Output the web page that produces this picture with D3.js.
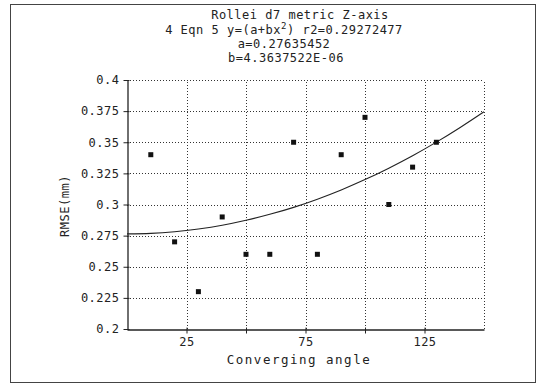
<!DOCTYPE html>
<html><head><meta charset="utf-8">
<script src="https://cdn.jsdelivr.net/npm/d3@7"></script>
<style>
body{margin:0;background:#fff;}
text{font-family:"DejaVu Sans Mono","Liberation Mono",monospace;fill:#222;}
</style></head>
<body><svg id="c" width="540" height="384"></svg>
<script>
const titleLines = ["Rollei d7 metric Z-axis", "4 Eqn 5 y=(a+bx", ") r2=0.29272477", "a=0.27635452", "b=4.3637522E-06"];
const angles = [10,20,30,40,50,60,70,80,90,100,110,120,130];
const rmse = [0.34,0.27,0.23,0.29,0.26,0.26,0.35,0.26,0.34,0.37,0.30,0.33,0.35];
const fitX = [0,10,20,30,40,50,60,70,80,90,100,110,120,130,140,150];
const fitY = [0.2764,0.2768,0.2781,0.2803,0.2833,0.2873,0.2921,0.2977,0.3043,0.3117,0.3200,0.3292,0.3392,0.3501,0.3619,0.3745];
const yTicks = [0.2,0.225,0.25,0.275,0.3,0.325,0.35,0.375,0.4];
const yTickLabels = ["0.2","0.225","0.25","0.275","0.3","0.325","0.35","0.375","0.4"];
const xTicks = [25,50,75,100,125];
const xTickLabels = ["25","","75","","125"];
const xTitle = "Converging angle";
const yTitle = "RMSE(mm)";

const svg = d3.select("#c");
const x = d3.scaleLinear().domain([0,150]).range([127,484]);
const y = d3.scaleLinear().domain([0.2,0.4]).range([329,80]);

// outer frame
svg.append("rect").attr("x",10.5).attr("y",4.5).attr("width",525).attr("height",378)
  .attr("fill","none").attr("stroke","#444").attr("stroke-width",1);

// title
const tg = svg.append("g").attr("font-size",12).attr("letter-spacing",0.5);
tg.append("text").attr("x",300).attr("y",19).attr("text-anchor","middle").text(titleLines[0]);
const t2 = tg.append("text").attr("x",284).attr("y",34).attr("text-anchor","middle");
t2.append("tspan").text(titleLines[1]);
t2.append("tspan").attr("dy",-5).attr("font-size",9).text("2");
t2.append("tspan").attr("dy",5).text(titleLines[2]);
tg.append("text").attr("x",284).attr("y",48).attr("text-anchor","middle").text(titleLines[3]);
tg.append("text").attr("x",286).attr("y",62).attr("text-anchor","middle").text(titleLines[4]);

// grid
const grid = svg.append("g").attr("stroke","#333").attr("stroke-width",1).attr("stroke-dasharray","1,2");
grid.selectAll(".h").data(yTicks.slice(1)).join("line")
  .attr("x1",x(0)).attr("x2",x(150)).attr("y1",d=>Math.round(y(d))+0.5).attr("y2",d=>Math.round(y(d))+0.5);
grid.selectAll(".v").data(xTicks.concat([150])).join("line")
  .attr("y1",y(0.2)).attr("y2",y(0.4)).attr("x1",d=>Math.round(x(d))+0.5).attr("x2",d=>Math.round(x(d))+0.5);

// axes
const yAxis = d3.axisLeft(y).tickValues(yTicks).tickFormat((d,i)=>yTickLabels[i]).tickSizeInner(4).tickSizeOuter(0).tickPadding(4);
const yg = svg.append("g").attr("transform",`translate(${x(0)+0.5},0)`).call(yAxis);
const xAxis = d3.axisBottom(x).tickValues(xTicks).tickFormat((d,i)=>xTickLabels[i]).tickSizeInner(4).tickSizeOuter(0).tickPadding(4);
const xg = svg.append("g").attr("transform",`translate(0,${y(0.2)+0.5})`).call(xAxis);
[yg,xg].forEach(g=>{
  g.select(".domain").attr("stroke","#222").attr("stroke-width",1.3);
  g.selectAll(".tick line").attr("stroke","#222");
  g.selectAll("text").attr("font-family","DejaVu Sans Mono, monospace").attr("font-size",12).attr("fill","#222").attr("letter-spacing",0.5);
});
xg.selectAll(".tick line").attr("y1",-2);
yg.selectAll(".tick line").attr("x1",2);

// axis titles
svg.append("text").attr("x",299).attr("y",364).attr("text-anchor","middle").attr("font-size",12.5)
  .attr("letter-spacing",1.5).text(xTitle);
svg.append("text").attr("transform","translate(69,206) rotate(-90)").attr("text-anchor","middle")
  .attr("font-size",12).attr("letter-spacing",0.5).text(yTitle);

// fit curve
const line = d3.line().x((d,i)=>x(fitX[i])).y(d=>y(d)).curve(d3.curveMonotoneX);
svg.append("path").attr("d",line(fitY)).attr("fill","none").attr("stroke","#222").attr("stroke-width",1.1);

// points
svg.selectAll(".pt").data(rmse).join("rect")
  .attr("x",(d,i)=>x(angles[i])-2.5).attr("y",d=>y(d)-2.5).attr("width",5).attr("height",5).attr("fill","#111");
</script></body></html>
